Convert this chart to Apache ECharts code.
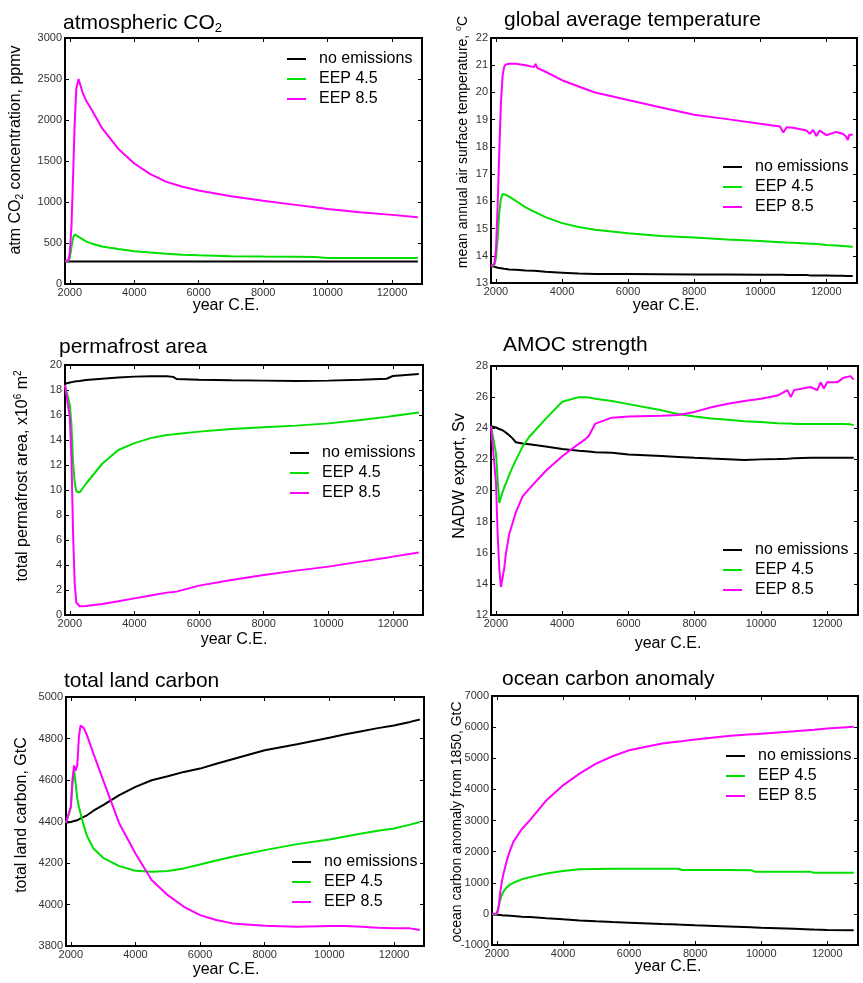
<!DOCTYPE html>
<html>
<head>
<meta charset="utf-8">
<title>EEP scenarios</title>
<script src="https://cdn.jsdelivr.net/npm/echarts@6/dist/echarts.min.js"></script>
<style>
  html, body { margin: 0; padding: 0; background: #fff; }
  #chart { width: 863px; height: 983px; }
</style>
</head>
<body>
<div id="chart"></div>
<script>
// values, one year list per panel
const seriesNames = ['no emissions', 'EEP 4.5', 'EEP 8.5'];
const xTicks = [2000, 4000, 6000, 8000, 10000, 12000];

const co2Year  = [1850, 1950, 2000, 2050, 2100, 2150, 2200, 2270, 2400, 2500, 2700, 3000, 3500, 4000, 4500, 5000, 5500, 6000, 7000, 8000, 9000, 9600, 9650, 10000, 11000, 12000, 12800];
const co2None  = [275, 275, 275, 275, 275, 275, 275, 275, 275, 275, 275, 275, 275, 275, 275, 275, 275, 275, 275, 275, 275, 275, 275, 275, 275, 275, 275];
const co2Eep45 = [275, 280, 320, 450, 560, 605, 595, 575, 545, 520, 490, 458, 426, 400, 383, 370, 358, 350, 338, 335, 333, 330, 318, 317, 316, 316, 316];
const co2Eep85 = [275, 290, 380, 700, 1300, 1950, 2380, 2500, 2330, 2240, 2110, 1900, 1650, 1470, 1340, 1245, 1185, 1140, 1070, 1015, 965, 935, 932, 915, 875, 843, 815];

const tempYear  = [1850, 1950, 2000, 2050, 2100, 2150, 2200, 2250, 2300, 2400, 2600, 2900, 3150, 3200, 3250, 3500, 4000, 4500, 5000, 6000, 7000, 8000, 9000, 10000, 10600, 10700, 10800, 11000, 11400, 11500, 11600, 11700, 11800, 12000, 12300, 12500, 12600, 12650, 12700, 12800];
const tempNone  = [13.62, 13.6, 13.58, 13.56, 13.55, 13.54, 13.53, 13.52, 13.51, 13.5, 13.49, 13.46, 13.45, 13.44, 13.44, 13.41, 13.38, 13.35, 13.33, 13.33, 13.32, 13.31, 13.31, 13.3, 13.3, 13.3, 13.29, 13.29, 13.29, 13.28, 13.28, 13.28, 13.28, 13.28, 13.27, 13.27, 13.26, 13.26, 13.26, 13.26];
const tempEep45 = [13.62, 13.65, 13.9, 14.6, 15.6, 16.1, 16.27, 16.28, 16.24, 16.17, 16.02, 15.78, 15.62, 15.6, 15.57, 15.42, 15.2, 15.06, 14.96, 14.83, 14.73, 14.67, 14.6, 14.54, 14.5, 14.5, 14.49, 14.48, 14.45, 14.44, 14.44, 14.43, 14.42, 14.4, 14.38, 14.36, 14.35, 14.35, 14.34, 14.33];
const tempEep85 = [13.62, 13.7, 14.2, 15.8, 17.8, 19.6, 20.6, 20.95, 21.03, 21.05, 21.05, 21.0, 20.93, 21.05, 20.9, 20.76, 20.45, 20.22, 20.0, 19.72, 19.45, 19.18, 19.02, 18.85, 18.75, 18.53, 18.72, 18.7, 18.6, 18.48, 18.62, 18.4, 18.6, 18.43, 18.55, 18.48, 18.38, 18.25, 18.45, 18.45];

const permYear  = [1850, 2000, 2050, 2100, 2150, 2200, 2300, 2500, 3000, 3500, 4000, 4500, 5000, 5200, 5300, 6000, 7000, 8000, 9000, 10000, 11000, 11800, 12000, 12800];
const permNone  = [18.5, 18.6, 18.62, 18.65, 18.67, 18.7, 18.72, 18.8, 18.9, 19.0, 19.07, 19.1, 19.1, 19.05, 18.88, 18.82, 18.78, 18.75, 18.72, 18.75, 18.82, 18.9, 19.12, 19.28];
const permEep45 = [18.4, 16.8, 15.2, 12.2, 10.6, 9.9, 9.8, 10.5, 12.1, 13.2, 13.75, 14.15, 14.4, 14.45, 14.48, 14.67, 14.88, 15.02, 15.15, 15.33, 15.6, 15.85, 15.92, 16.2];
const permEep85 = [18.4, 15.8, 12.5, 6.5, 2.5, 1.0, 0.7, 0.72, 0.88, 1.1, 1.33, 1.56, 1.79, 1.84, 1.87, 2.35, 2.8, 3.2, 3.55, 3.87, 4.27, 4.58, 4.67, 5.0];

const amocYear  = [1850, 2000, 2050, 2100, 2150, 2200, 2250, 2300, 2400, 2500, 2600, 2800, 3000, 3500, 4000, 4500, 4700, 4800, 5000, 5500, 6000, 7000, 7500, 8000, 8500, 9000, 9500, 10000, 10500, 10800, 10900, 11000, 11500, 11700, 11800, 11900, 12000, 12300, 12500, 12700, 12800];
const amocNone  = [24.13, 24.05, 24.0, 23.95, 23.9, 23.87, 23.8, 23.72, 23.55, 23.35, 23.1, 23.02, 22.97, 22.82, 22.67, 22.55, 22.52, 22.5, 22.46, 22.42, 22.32, 22.22, 22.16, 22.1, 22.05, 22.01, 21.96, 22.0, 22.02, 22.04, 22.05, 22.08, 22.1, 22.1, 22.1, 22.1, 22.1, 22.1, 22.1, 22.1, 22.1];
const amocEep45 = [24.13, 22.4, 20.7, 19.2, 19.25, 19.9, 20.2, 20.45, 21.0, 21.5, 21.95, 22.8, 23.44, 24.6, 25.7, 26.0, 26.0, 25.97, 25.9, 25.75, 25.55, 25.15, 24.92, 24.75, 24.62, 24.55, 24.45, 24.4, 24.32, 24.3, 24.3, 24.28, 24.28, 24.28, 24.28, 24.28, 24.28, 24.27, 24.27, 24.25, 24.2];
const amocEep85 = [24.13, 20.5, 17.2, 15.0, 13.8, 13.9, 15.0, 15.96, 17.2, 17.9, 18.6, 19.6, 20.1, 21.25, 22.2, 23.0, 23.3, 23.5, 24.3, 24.68, 24.75, 24.8, 24.85, 25.05, 25.35, 25.58, 25.75, 25.9, 26.1, 26.45, 26.0, 26.45, 26.65, 26.45, 26.95, 26.55, 26.95, 26.95, 27.25, 27.35, 27.12];

const landYear  = [1850, 2000, 2050, 2100, 2150, 2200, 2250, 2300, 2400, 2500, 2700, 3000, 3500, 4000, 4500, 5000, 5500, 6000, 6500, 7000, 8000, 9000, 10000, 10500, 11000, 11500, 12000, 12500, 12800];
const landNone  = [4394, 4398, 4400, 4402, 4404, 4406, 4410, 4415, 4422, 4430, 4452, 4479, 4527, 4567, 4599, 4618, 4639, 4655, 4678, 4700, 4743, 4772, 4804, 4820, 4835, 4850, 4863, 4880, 4892];
const landEep45 = [4394, 4470, 4583, 4647, 4583, 4510, 4470, 4440, 4380, 4330, 4270, 4225, 4185, 4163, 4158, 4161, 4174, 4193, 4212, 4230, 4262, 4291, 4313, 4328, 4342, 4355, 4366, 4385, 4398];
const landEep85 = [4394, 4470, 4600, 4670, 4645, 4672, 4810, 4863, 4850, 4815, 4727, 4599, 4390, 4246, 4118, 4045, 3989, 3949, 3925, 3909, 3898, 3893, 3896, 3896, 3893, 3888, 3885, 3885, 3877];

const oceanYear  = [1850, 2000, 2050, 2100, 2150, 2200, 2300, 2400, 2500, 2750, 3000, 3500, 4000, 4500, 5000, 5500, 6000, 7000, 7500, 7600, 8000, 9000, 9700, 9800, 10000, 11000, 11500, 11600, 12000, 12800];
const oceanNone  = [-20, -30, -35, -40, -45, -50, -55, -62, -70, -90, -100, -140, -176, -210, -240, -262, -283, -325, -345, -348, -369, -405, -430, -434, -444, -480, -500, -505, -519, -530];
const oceanEep45 = [0, 0, 250, 450, 620, 720, 860, 940, 1000, 1110, 1180, 1300, 1374, 1430, 1445, 1448, 1450, 1450, 1448, 1410, 1408, 1406, 1405, 1355, 1355, 1355, 1350, 1320, 1320, 1320];
const oceanEep85 = [0, 16, 200, 700, 1050, 1300, 1720, 2050, 2320, 2720, 3011, 3652, 4130, 4508, 4829, 5064, 5257, 5471, 5540, 5550, 5599, 5717, 5770, 5775, 5791, 5866, 5910, 5918, 5952, 6015];

const FONT = '"Liberation Sans", Arial, sans-serif';
const lineColors = ['#000000', '#00e000', '#ff00ff'];
const xMin = 1850, xMax = 12930;

const panels = [
  { rect: [65, 38, 357, 246], y: [0, 3000, 500], years: co2Year, values: [co2None, co2Eep45, co2Eep85],
    title: 'atmospheric CO{sub|2}', titlePos: [63, 11],
    yName: 'atm CO{sub|2} concentration, ppmv', yNamePos: [16, 150], yNameSize: 16,
    xNamePos: [226, 306], legendPos: [287, 51] },
  { rect: [491, 38, 366, 245], y: [13, 22, 1], years: tempYear, values: [tempNone, tempEep45, tempEep85],
    title: 'global average temperature', titlePos: [504, 10],
    yName: 'mean annual air surface temperature, {sup|o}C', yNamePos: [463, 142], yNameSize: 14,
    xNamePos: [666, 306], legendPos: [723, 159] },
  { rect: [65, 365, 358, 250], y: [0, 20, 2], years: permYear, values: [permNone, permEep45, permEep85],
    title: 'permafrost area', titlePos: [59, 337],
    yName: 'total permafrost area, x10{sup|6} m{sup|2}', yNamePos: [23, 476], yNameSize: 16,
    xNamePos: [234, 640], legendPos: [290, 445] },
  { rect: [491, 366, 367, 249], y: [12, 28, 2], years: amocYear, values: [amocNone, amocEep45, amocEep85],
    title: 'AMOC strength', titlePos: [503, 335],
    yName: 'NADW export, Sv', yNamePos: [460, 476], yNameSize: 16,
    xNamePos: [668, 644], legendPos: [723, 542] },
  { rect: [66, 697, 358, 249], y: [3800, 5000, 200], years: landYear, values: [landNone, landEep45, landEep85],
    title: 'total land carbon', titlePos: [64, 671],
    yName: 'total land carbon, GtC', yNamePos: [22, 815], yNameSize: 16,
    xNamePos: [226, 970], legendPos: [292, 854] },
  { rect: [492, 696, 366, 249], y: [-1000, 7000, 1000], years: oceanYear, values: [oceanNone, oceanEep45, oceanEep85],
    title: 'ocean carbon anomaly', titlePos: [502, 669],
    yName: 'ocean carbon anomaly from 1850, GtC', yNamePos: [457, 822], yNameSize: 14,
    xNamePos: [668, 967], legendPos: [726, 748] }
];

function richFor(size) {
  return {
    sub: { fontSize: Math.round(size * 0.62), fontFamily: FONT, color: '#000', padding: [Math.round(size * 0.5), 0, 0, 0] },
    sup: { fontSize: Math.round(size * 0.62), fontFamily: FONT, color: '#000', padding: [0, 0, Math.round(size * 0.6), 0] }
  };
}

// plain numbers, no thousands separator
const plain = v => String(v);

const grids = [], xAxes = [], yAxes = [], series = [], titles = [], legends = [], graphics = [];

panels.forEach((p, i) => {
  grids.push({
    left: p.rect[0], top: p.rect[1], width: p.rect[2], height: p.rect[3],
    show: true, borderColor: '#000', borderWidth: 2
  });

  const xBase = {
    type: 'value', gridIndex: i, min: xMin, max: xMax,
    axisLine: { show: false, onZero: false }, splitLine: { show: false },
    axisTick: { inside: true, length: 4, customValues: xTicks, lineStyle: { color: '#000' } }
  };
  xAxes.push(Object.assign({}, xBase, {
    position: 'bottom',
    axisLabel: { customValues: xTicks, fontSize: 11, color: '#333', margin: 3, fontFamily: FONT, formatter: plain }
  }));
  xAxes.push(Object.assign({}, xBase, { position: 'top', axisLabel: { show: false } }));

  const yBase = {
    type: 'value', gridIndex: i, min: p.y[0], max: p.y[1], interval: p.y[2],
    axisLine: { show: false, onZero: false }, splitLine: { show: false },
    axisTick: { inside: true, length: 4, lineStyle: { color: '#000' } }
  };
  yAxes.push(Object.assign({}, yBase, {
    position: 'left',
    axisLabel: { fontSize: 11, color: '#333', margin: 3, fontFamily: FONT, formatter: plain }
  }));
  yAxes.push(Object.assign({}, yBase, { position: 'right', axisLabel: { show: false } }));

  p.values.forEach((vals, k) => {
    series.push({
      type: 'line',
      name: seriesNames[k],
      xAxisIndex: 2 * i,
      yAxisIndex: 2 * i,
      data: p.years.map((yr, j) => [yr, vals[j]]),
      symbol: 'none',
      lineStyle: { width: 2, color: lineColors[k] },
      itemStyle: { color: lineColors[k] },
      silent: true
    });
  });

  titles.push({
    text: p.title, left: p.titlePos[0], top: p.titlePos[1], padding: 0,
    textStyle: { fontSize: 21, fontWeight: 'normal', color: '#000', fontFamily: FONT, rich: richFor(21) }
  });

  legends.push({
    data: seriesNames, orient: 'vertical', left: p.legendPos[0], top: p.legendPos[1],
    padding: 0, itemGap: 4, itemWidth: 19, itemHeight: 2, icon: 'rect', selectedMode: false,
    textStyle: { fontSize: 16, lineHeight: 16, color: '#000', fontFamily: FONT, padding: [0, 0, 0, 8] }
  });

  // rotated y-axis title
  graphics.push({
    type: 'text', x: p.yNamePos[0], y: p.yNamePos[1], rotation: Math.PI / 2, silent: true,
    style: {
      text: p.yName, fontSize: p.yNameSize, fontFamily: FONT, fill: '#000',
      align: 'center', verticalAlign: 'middle', rich: richFor(p.yNameSize)
    }
  });
  graphics.push({
    type: 'text', x: p.xNamePos[0], y: p.xNamePos[1], silent: true,
    style: {
      text: 'year C.E.', fontSize: 16, fontFamily: FONT, fill: '#000',
      align: 'center', verticalAlign: 'middle'
    }
  });
});

const chart = echarts.init(document.getElementById('chart'));
chart.setOption({
  backgroundColor: '#fff',
  animation: false,
  title: titles,
  legend: legends,
  grid: grids,
  xAxis: xAxes,
  yAxis: yAxes,
  series: series,
  graphic: graphics
});
</script>
</body>
</html>
